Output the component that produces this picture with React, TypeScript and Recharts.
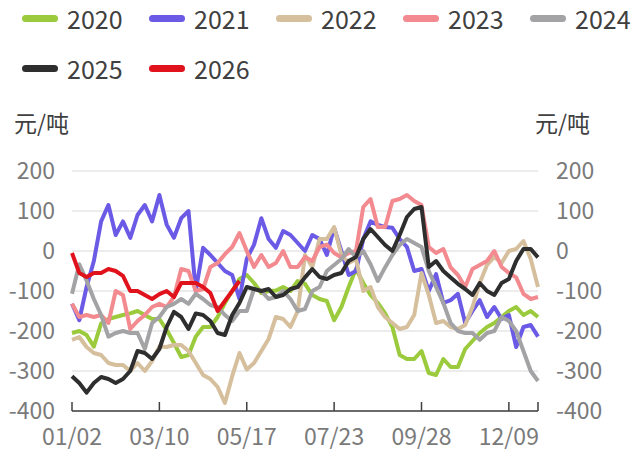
import React from 'react';
import { LineChart, Line, XAxis, YAxis, CartesianGrid } from 'recharts';

// sampled every 4 trading days, from 01/02
const STEP = 4;
const TICK_POS = [0, 48, 96, 144, 192, 240, 256];
const TICK_LABELS = ['01/02', '03/10', '05/17', '07/23', '09/28', '12/09', ''];
const Y_TICKS = [-400, -300, -200, -100, 0, 100, 200];

const YEARS = ['2020', '2021', '2022', '2023', '2024', '2025', '2026'];
const COLORS = ['#9bcb3c', '#6a5ae6', '#d5bf9c', '#f28a8f', '#a3a3a5', '#2e2e2e', '#e0121b'];

const v2020 = [-205, -200, -210, -239, -181, -170, -165, -160, -156, -150, -160, -170, -170, -197, -230, -265, -260, -214, -190, -190, -165, -130, -100, -70, -60, -80, -105, -100, -99, -90, -100, -75, -82, -110, -120, -125, -173, -140, -90, -45, -80, -110, -130, -156, -190, -260, -270, -270, -250, -305, -310, -270, -290, -290, -245, -225, -205, -190, -180, -165, -150, -140, -160, -150, -165];
const v2021 = [-132, -173, -90, -25, 74, 115, 40, 74, 33, 90, 115, 74, 140, 66, 33, 82, 100, -100, 8, -10, -30, -50, -60, -120, -20, 16, 82, 30, 8, 50, 40, 20, 0, 40, 30, -10, 58, 0, -60, -50, 30, 74, 65, 60, 58, 30, 10, -50, -45, -100, -58, -130, -123, -107, -180, -150, -123, -165, -140, -170, -160, -240, -190, -185, -214];
const v2022 = [-222, -215, -240, -255, -260, -280, -285, -285, -300, -280, -300, -275, -239, -240, -235, -235, -250, -280, -310, -320, -340, -380, -313, -255, -296, -280, -250, -220, -165, -170, -190, -150, -10, -40, 30, 30, 60, -10, -30, -20, -100, -90, -140, -165, -180, -195, -190, -160, -55, -110, -180, -175, -190, -195, -185, -140, -80, -35, -15, -30, 0, 5, 25, -20, -90];
const v2023 = [-132, -165, -160, -165, -160, -180, -100, -110, -195, -175, -160, -140, -132, -140, -115, -45, -50, -100, -95, -40, -30, -8, 10, 45, 0, -40, -10, -40, -30, 0, -40, -40, -15, -25, 10, 16, -5, -16, -5, 0, 110, 130, 60, 60, 125, 130, 140, 125, 115, 10, -5, 5, -41, -60, -90, -45, -35, -25, 0, -40, -55, -66, -107, -120, -115];
const v2024 = [-107, -33, -74, -120, -160, -214, -205, -200, -205, -205, -245, -180, -165, -140, -132, -120, -132, -107, -120, -135, -140, -160, -175, -150, -150, -95, -100, -120, -115, -100, -120, -150, -145, -100, -90, -50, -35, -20, 5, -15, 0, -33, -75, -41, -10, 15, 30, 20, 10, -50, -90, -130, -180, -200, -205, -205, -222, -205, -200, -165, -175, -200, -250, -300, -325];
const v2025 = [-313, -330, -354, -330, -315, -320, -330, -320, -300, -250, -255, -270, -245, -190, -152, -165, -195, -156, -160, -175, -205, -210, -160, -130, -90, -95, -100, -95, -115, -110, -95, -90, -66, -45, -65, -70, -60, -55, -25, -15, 30, 55, 35, 15, 0, 40, 85, 105, 110, -40, -25, -50, -66, -82, -95, -110, -80, -100, -110, -80, -70, -25, 5, 5, -16];
const v2026 = [-5, -55, -65, -55, -55, -45, -50, -62, -100, -100, -110, -120, -108, -100, -115, -80, -80, -80, -90, -105, -150, -125, -100, -75];

const SERIES = [v2020, v2021, v2022, v2023, v2024, v2025, v2026];

const rows = v2020.map((_, k) => {
  const row: Record<string, number | null> = { i: k * STEP };
  YEARS.forEach((y, s) => {
    const val = SERIES[s][k];
    row[y] = val === undefined ? null : val;
  });
  return row;
});

const FONT = '"Noto Sans CJK SC", "Noto Sans", sans-serif';
const AXIS_GREY = '#7a7a7a';

export default function App() {
  return (
    <div style={{ position: 'fixed', left: 0, top: 0, width: 631, height: 452, background: '#fff', fontFamily: FONT, overflow: 'hidden' }}>
      {/* legend */}
      <div style={{ position: 'absolute', left: 22, top: -7, width: 700, display: 'flex', flexWrap: 'wrap' }}>
        {YEARS.map((y, s) => (
          <div key={y} style={{ width: 127, height: 50, display: 'flex', alignItems: 'center', fontSize: 25, color: '#404040', flexBasis: 127, flexShrink: 0 }}>
            <div style={{ width: 36, height: 7, borderRadius: 4, background: COLORS[s], marginRight: 9 }} />
            {y}
          </div>
        )).reduce<React.ReactNode[]>((acc, el, k) => {
          acc.push(el);
          if (k === 4) acc.push(<div key="br" style={{ flexBasis: '100%', height: 0 }} />);
          return acc;
        }, [])}
      </div>

      {/* unit labels */}
      <div style={{ position: 'absolute', left: 14, top: 105, fontSize: 23, color: '#404040' }}>元/吨</div>
      <div style={{ position: 'absolute', left: 535, top: 105, fontSize: 23, color: '#404040' }}>元/吨</div>

      <LineChart width={631} height={452} data={rows} margin={{ top: 171, right: 0, bottom: 0, left: 0 }}>
        <CartesianGrid vertical={false} stroke="#d9d9d9" yAxisId="left" />
        <XAxis
          dataKey="i"
          type="number"
          domain={[0, 256]}
          ticks={TICK_POS}
          interval={0}
          tickFormatter={(v: number) => TICK_LABELS[TICK_POS.indexOf(v)]}
          height={41}
          axisLine={{ stroke: '#404040', strokeWidth: 1.5 }}
          tickLine={{ stroke: '#404040', strokeWidth: 1.5 }}
          tickSize={-9}
          tickMargin={27}
          tick={{ fill: AXIS_GREY, fontSize: 23, fontFamily: FONT }}
        />
        <YAxis
          yAxisId="left"
          domain={[-400, 200]}
          ticks={Y_TICKS}
          interval={0}
          width={72}
          axisLine={false}
          tickLine={false}
          tickSize={0}
          tickMargin={17}
          tick={{ fill: AXIS_GREY, fontSize: 23, fontFamily: FONT }}
        />
        <YAxis
          yAxisId="right"
          orientation="right"
          domain={[-400, 200]}
          ticks={Y_TICKS}
          interval={0}
          width={93}
          axisLine={false}
          tickLine={false}
          tickSize={0}
          tickMargin={18}
          tick={{ fill: AXIS_GREY, fontSize: 23, fontFamily: FONT, textAnchor: 'start' }}
        />
        {YEARS.map((y, s) => (
          <Line
            key={y}
            yAxisId={s === 6 ? 'right' : 'left'}
            type="linear"
            dataKey={y}
            stroke={COLORS[s]}
            strokeWidth={4}
            strokeLinejoin="round"
            dot={false}
            activeDot={false}
            connectNulls={false}
            isAnimationActive={false}
          />
        ))}
      </LineChart>
    </div>
  );
}
